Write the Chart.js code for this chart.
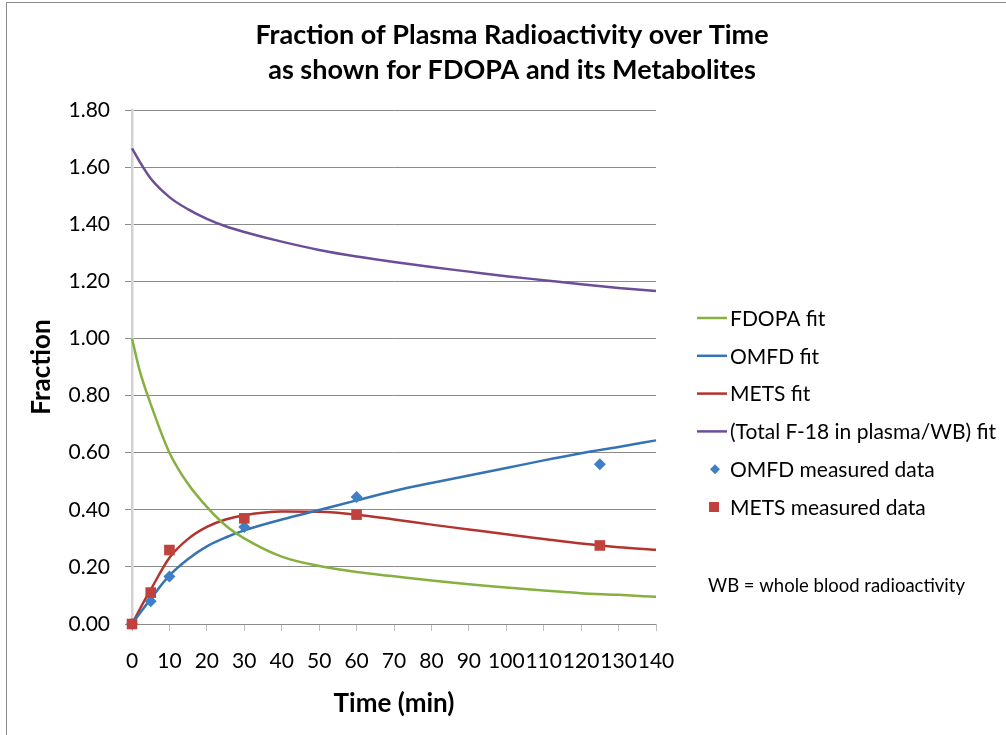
<!DOCTYPE html>
<html>
<head>
<meta charset="utf-8">
<script src="https://cdn.jsdelivr.net/npm/chart.js@4/dist/chart.umd.min.js"></script>
<style>
html,body{margin:0;padding:0;background:#fff;}
#wrap{width:1006px;height:735px;position:relative;}
</style>
</head>
<body>
<div id="wrap"><canvas id="c" width="1006" height="735"></canvas></div>
<script>
// ---- data ----
const titleLines = ['Fraction of Plasma Radioactivity over Time', 'as shown for FDOPA and its Metabolites'];
const xTitle = 'Time (min)';
const yTitle = 'Fraction';
const noteText = 'WB = whole blood radioactivity';

const fitTimes = [0, 2, 5, 10, 15, 20, 25, 30, 40, 50, 60, 70, 80, 90, 100, 110, 120, 130, 140];
const fdopaFit = [1.0, 0.89, 0.77, 0.60, 0.49, 0.41, 0.345, 0.30, 0.236, 0.203, 0.182, 0.167, 0.152, 0.139, 0.128, 0.117, 0.108, 0.102, 0.095];
const omfdFit  = [0, 0.036, 0.088, 0.17, 0.228, 0.272, 0.303, 0.328, 0.366, 0.399, 0.433, 0.466, 0.494, 0.52, 0.546, 0.573, 0.598, 0.62, 0.643];
const metsFit  = [0, 0.05, 0.12, 0.232, 0.298, 0.34, 0.366, 0.381, 0.394, 0.393, 0.383, 0.366, 0.348, 0.331, 0.314, 0.298, 0.282, 0.269, 0.26];
const totalFit = [1.666, 1.62, 1.56, 1.495, 1.452, 1.419, 1.393, 1.373, 1.339, 1.31, 1.287, 1.268, 1.25, 1.234, 1.218, 1.204, 1.19, 1.177, 1.166];

const measTimes = [0, 5, 10, 30, 60, 125];
const omfdMeas = [0, 0.08, 0.166, 0.34, 0.445, 0.559];
const metsMeas = [0, 0.11, 0.259, 0.37, 0.383, 0.275];

const seriesLabels = ['FDOPA fit', 'OMFD fit', 'METS fit', '(Total F-18 in plasma/WB) fit', 'OMFD measured data', 'METS measured data'];

const xMin = 0, xMax = 140, xStep = 10;
const yMin = 0, yMax = 1.8, yStep = 0.2;

// ---- helpers ----
const pts = (xs, ys) => xs.map((x, i) => ({x: x, y: ys[i]}));
const FONT = 'Lato, "Open Sans", sans-serif';

const lineDs = (label, ys, color) => ({
  label: label, data: pts(fitTimes, ys), borderColor: color, backgroundColor: color,
  borderWidth: 2.5, pointRadius: 0, pointHoverRadius: 0, cubicInterpolationMode: 'monotone',
  fill: false, order: 2, showLine: true, clip: false
});
const markDs = (label, ys, color, style, r, ord) => ({
  label: label, data: pts(measTimes, ys), borderColor: color, backgroundColor: color,
  showLine: false, pointStyle: style, pointRadius: r, pointBorderWidth: 0, order: ord, clip: false
});

const datasets = [
  lineDs(seriesLabels[0], fdopaFit, '#86B03F'),
  lineDs(seriesLabels[1], omfdFit, '#3673B5'),
  lineDs(seriesLabels[2], metsFit, '#B3342F'),
  lineDs(seriesLabels[3], totalFit, '#6C4D98'),
  markDs(seriesLabels[4], omfdMeas, '#3F80C4', 'rectRot', 6, 1),
  markDs(seriesLabels[5], metsMeas, '#C0413D', 'rect', 7.5, 0)
];

const decor = {
  id: 'decor',
  beforeDraw(chart) {
    const ctx = chart.ctx;
    ctx.save();
    ctx.fillStyle = '#fff';
    ctx.fillRect(0, 0, chart.width, chart.height);
    ctx.strokeStyle = '#8c8c8c';
    ctx.lineWidth = 1;
    ctx.strokeRect(6.5, 2.5, 1200, 1200);
    ctx.restore();
  },
  afterDraw(chart) {
    const ctx = chart.ctx;
    ctx.save();
    // title
    ctx.fillStyle = '#000';
    ctx.textAlign = 'center';
    ctx.textBaseline = 'middle';
    ctx.font = 'bold 27px ' + FONT;
    ctx.fillText(titleLines[0], 512, 35);
    ctx.fillText(titleLines[1], 512, 70);
    // legend
    const x0 = 697, rowY = 318, dy = 37.8;
    ctx.font = '21px ' + FONT;
    ctx.textAlign = 'left';
    chart.data.datasets.forEach((ds, i) => {
      const y = rowY + i * dy;
      if (ds.showLine) {
        ctx.strokeStyle = ds.borderColor;
        ctx.lineWidth = 2.5;
        ctx.beginPath();
        ctx.moveTo(x0, y);
        ctx.lineTo(x0 + 30, y);
        ctx.stroke();
      } else {
        ctx.fillStyle = ds.backgroundColor;
        ctx.beginPath();
        if (ds.pointStyle === 'rectRot') {
          const r = 5;
          ctx.moveTo(x0 + 18, y - r); ctx.lineTo(x0 + 18 + r, y); ctx.lineTo(x0 + 18, y + r); ctx.lineTo(x0 + 18 - r, y);
          ctx.closePath();
        } else {
          ctx.rect(x0 + 12, y - 5, 10, 10);
        }
        ctx.fill();
      }
      ctx.fillStyle = '#000';
      ctx.fillText(ds.label, 730, y + 1);
    });
    ctx.font = '18.5px ' + FONT;
    ctx.fillText(noteText, 708, 586);
    ctx.restore();
  }
};

new Chart(document.getElementById('c'), {
  type: 'line',
  data: { datasets: datasets },
  plugins: [decor],
  options: {
    responsive: false,
    animation: false,
    events: [],
    layout: { padding: { left: 0, top: 110, right: 350, bottom: 0 } },
    plugins: { legend: { display: false }, title: { display: false }, tooltip: { enabled: false } },
    scales: {
      x: {
        type: 'linear', min: xMin, max: xMax,
        afterFit(s) { s.height = 111; },
        ticks: { stepSize: xStep, autoSkip: false, maxRotation: 0, padding: 18, color: '#000', font: { family: FONT, size: 21 } },
        grid: { drawOnChartArea: false, drawTicks: true, tickLength: 7, color: '#bdbdbd' },
        border: { display: false },
        title: { display: true, text: xTitle, color: '#000', font: { family: FONT, size: 26, weight: 'bold' }, padding: { top: 0, bottom: 16 } }
      },
      y: {
        min: yMin, max: yMax,
        afterFit(s) { s.width = 132; },
        ticks: { stepSize: yStep, padding: 15, color: '#000', font: { family: FONT, size: 21 }, callback: v => Number(v).toFixed(2) },
        grid: { color: '#8a8a8a', lineWidth: 1, tickLength: 7 },
        border: { display: true, color: '#d2d2d2', width: 2.5 },
        title: { display: true, text: yTitle, color: '#000', font: { family: FONT, size: 26, weight: 'bold' }, padding: { top: 26, bottom: 0 } }
      }
    }
  }
});
</script>
</body>
</html>
